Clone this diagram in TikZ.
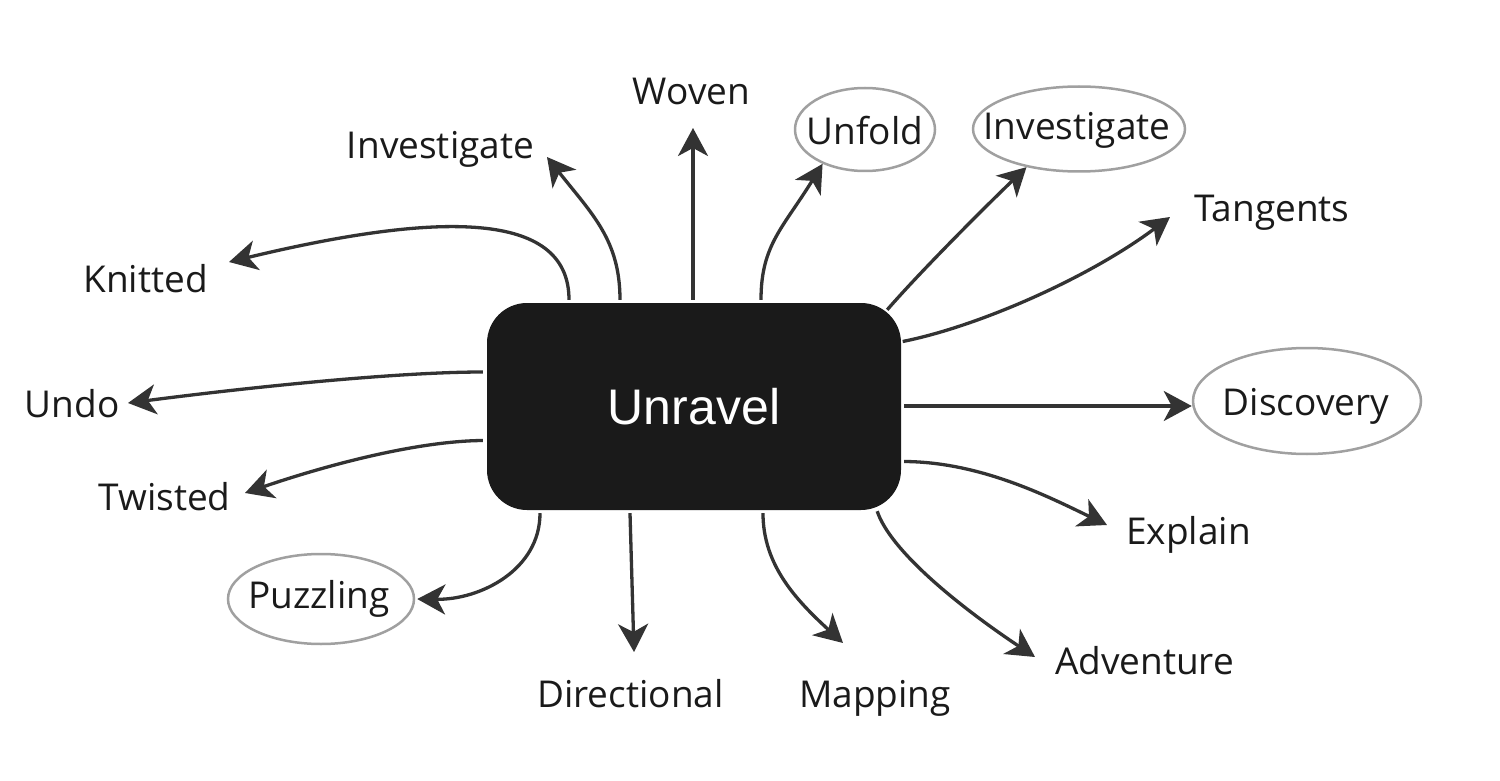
\documentclass[tikz,border=0pt]{standalone}
\usepackage{fontspec}
\setmainfont{Open Sans}
\newfontfamily\boxfont{Liberation Sans}
\usetikzlibrary{arrows.meta,calc,shapes.geometric}
\definecolor{ink}{HTML}{1A1A1A}
\definecolor{linec}{HTML}{333333}
\definecolor{ovalc}{HTML}{A0A0A0}
\begin{document}
\begin{tikzpicture}[x=1pt,y=-1pt,
  lbl/.style={anchor=base, inner sep=0pt, text=ink, font=\fontsize{37}{44}\selectfont},
  oval/.style={ellipse, draw=ovalc, line width=2.5pt, inner sep=0pt},
  arr/.style={draw=linec, line width=3.3pt, -{Stealth[length=28pt,width=30pt,inset=8pt]}},
  centerbox/.style={fill=ink, rounded corners=40pt, minimum width=414pt, minimum height=207pt,
    inner sep=0pt, text=white, font=\boxfont\fontsize{50}{60}\selectfont, text height=36pt, text depth=0pt}]
\fill[white] (0,0) rectangle (1500,781);
\path[use as bounding box] (0,0) rectangle (1500,781);

% central node
\node[centerbox] (u) at (694,406.5) {Unravel};

% ellipses
\node[oval, minimum width=140pt, minimum height=83pt] (unf) at (865,129.5) {};
\node[oval, minimum width=212pt, minimum height=85pt] (invre) at (1079,129) {};
\node[oval, minimum width=228pt, minimum height=106pt] (disc) at (1307,401) {};
\node[oval, minimum width=186pt, minimum height=90pt] (puz) at (321,599) {};

% labels
\node[lbl] (woven) at (691.5,105) {Woven};
\node[lbl] (invl) at (440.5,159) {Investigate};
\node[lbl] (knit) at (145.5,292) {Knitted};
\node[lbl] (undo) at (72,417) {Undo};
\node[lbl] (twist) at (164.5,510) {Twisted};
\node[lbl] (puzt) at (319,608) {Puzzling};
\node[lbl] (dir) at (630.5,707) {Directional};
\node[lbl] (map) at (875,707) {Mapping};
\node[lbl] (adv) at (1144.5,674) {Adventure};
\node[lbl] (expl) at (1188.5,544) {Explain};
\node[lbl] (disct) at (1306,415) {Discovery};
\node[lbl] (tang) at (1272,222) {Tangents};
\node[lbl] (invrt) at (1077,140) {Investigate};
\node[lbl] (unft) at (865,145) {Unfold};

% start points on the central box
\coordinate (s1) at ($(u.north)+(-125,-3)$);
\coordinate (s2) at ($(u.north)+(-74,-3)$);
\coordinate (s3) at ($(u.north)+(-1,-3)$);
\coordinate (s4) at ($(u.north)+(67,-3)$);
\coordinate (s5) at ($(u.north east)+(-14,7)$);
\coordinate (s6) at ($(u.east)+(1.5,-65)$);
\coordinate (s7) at ($(u.east)+(3,-0.5)$);
\coordinate (s8) at ($(u.east)+(3,55)$);
\coordinate (s9) at ($(u.south east)+(-24,1)$);
\coordinate (s10) at ($(u.south)+(69,3)$);
\coordinate (s11) at ($(u.south)+(-64,3)$);
\coordinate (s12) at ($(u.south)+(-154,3)$);
\coordinate (s13) at ($(u.west)+(-4,34)$);
\coordinate (s14) at ($(u.west)+(-4,-34.5)$);

% free ends near the text labels
\coordinate (t1) at (229,262);
\coordinate (t2) at (547,157);
\coordinate (t3) at (693,128);
\coordinate (t6) at (1170,217);
\coordinate (t8) at (1107,525);
\coordinate (t9) at (1035,657);
\coordinate (t10) at (843,643);
\coordinate (t11) at (634,652);
\coordinate (t13) at (245,493);
\coordinate (t14) at (128,403);

% connectors
\draw[arr] (s1) .. controls (569,215) and (453,208) .. (t1);
\draw[arr] (s2) .. controls (620,240) and (592,214) .. (t2);
\draw[arr] (s3) -- (t3);
\draw[arr] (s4) .. controls (761,245) and (783,228) .. (unf.219);
\draw[arr] (s5) .. controls (920,272) and (985,207) .. (invre.216);
\draw[arr] (s6) .. controls (980,326) and (1090,277) .. (t6);
\draw[arr] (s7) -- (s7 -| disc.west);
\draw[arr] (s8) .. controls (980,462) and (1047,496) .. (t8);
\draw[arr] (s9) .. controls (890,550) and (957,605) .. (t9);
\draw[arr] (s10) .. controls (763,565) and (796,600) .. (t10);
\draw[arr] (s11) -- (t11);
\draw[arr] (s12) .. controls (540,570) and (480,600) .. ([xshift=2pt]puz.east);
\draw[arr] (s13) .. controls (420,441) and (333,463) .. (t13);
\draw[arr] (s14) .. controls (400,372) and (260,386) .. (t14);
\end{tikzpicture}
\end{document}
